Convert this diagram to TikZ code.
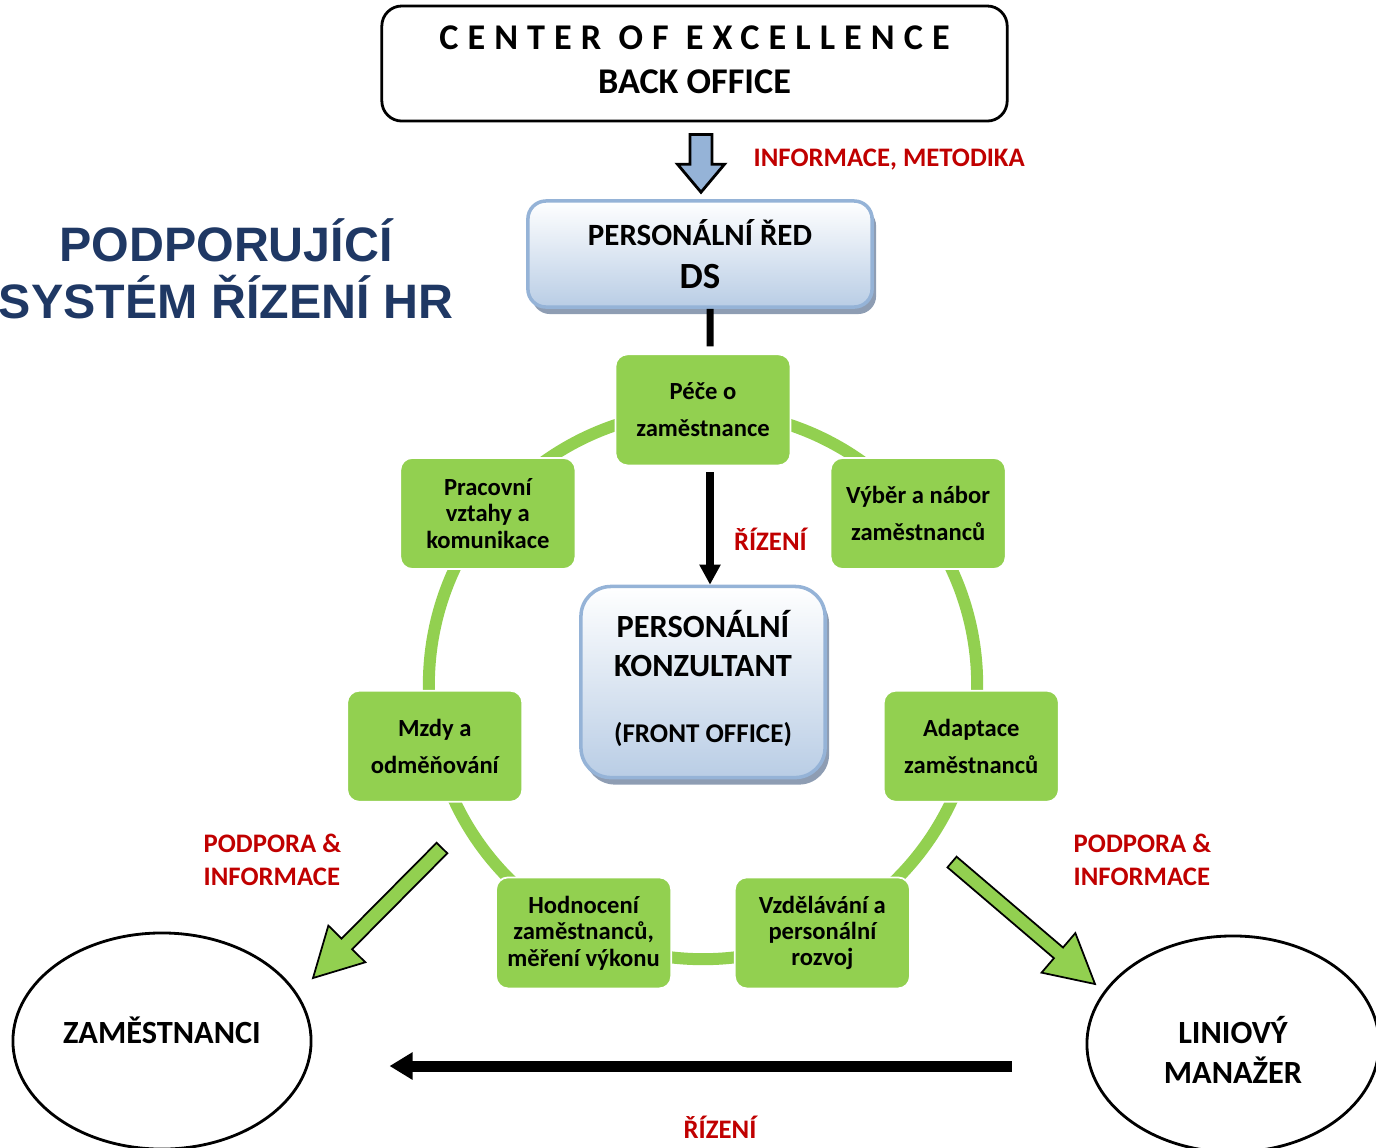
\documentclass[tikz,border=0pt]{standalone}
\usepackage{fontspec}
\setmainfont{Carlito}
\newfontfamily\titlefont{Liberation Sans}
\usetikzlibrary{arrows.meta, positioning, calc, shapes.geometric, shadows}
\definecolor{hrGreen}{HTML}{92D050}
\definecolor{hrBlue}{HTML}{95B3D7}
\definecolor{hrPale}{HTML}{B9CDE5}
\definecolor{hrShadow}{HTML}{8E9DB3}
\definecolor{hrRed}{HTML}{C00000}
\definecolor{hrNavy}{HTML}{1F3864}
% outlined block arrow: [style]{from}{to}{shaft half width}{head half width}{head length}
\newcommand{\blockarrow}[6][]{%
  \coordinate (ba-h) at ($(#3)!#6!(#2)$);
  \draw[#1] ($(#2)!#4!90:(#3)$) -- ($(ba-h)!#4!90:(#3)$) -- ($(ba-h)!#5!90:(#3)$)
    -- (#3) -- ($(ba-h)!#5!-90:(#3)$) -- ($(ba-h)!#4!-90:(#3)$) -- ($(#2)!#4!-90:(#3)$) -- cycle;
}

\begin{document}
\begin{tikzpicture}[x=0.01cm, y=0.01cm,
  font=\bfseries,
  hrbox/.style={fill=hrGreen, draw=white, line width=0.5pt, rounded corners=0.12cm,
                minimum width=1.75cm, minimum height=1.11cm, align=center, inner sep=1pt,
                font=\bfseries\fontsize{7}{7.5}\selectfont},
  pale/.style={draw=hrBlue, line width=1pt, top color=white, bottom color=hrPale, align=center,
               drop shadow={shadow xshift=0.04cm, shadow yshift=-0.07cm, fill=hrShadow, opacity=1}},
  oval/.style={draw, ellipse, line width=0.8pt, align=center, inner sep=0pt,
               font=\bfseries\fontsize{9.2}{11.2}\selectfont},
  lab/.style={text=hrRed, inner sep=0pt, align=left, font=\bfseries\fontsize{7.6}{9.4}\selectfont},
  ar/.style={line width=0.08cm, -{Triangle[length=0.2cm, width=0.2cm]}},
]
\useasboundingbox (0,0) rectangle (1376,-1147);

\node[text=hrNavy, font=\titlefont\bfseries\fontsize{13.75}{16.2}\selectfont, align=center]
  (title) at (226,-269) {PODPORUJÍCÍ\\SYSTÉM ŘÍZENÍ HR};

\node[draw, line width=0.8pt, rounded corners=0.2cm, minimum width=6.25cm, minimum height=1.15cm,
      align=center, font=\bfseries\fontsize{10.3}{12.5}\selectfont]
  (coe) at (694.5,-63.5) {{\addfontfeature{LetterSpace=25}CENTER OF EXCELLENCE}\\BACK OFFICE\rule[-2.3pt]{0pt}{0pt}};
\node[pale, rounded corners=0.18cm, minimum width=3.44cm, minimum height=1.06cm,
      font=\bfseries\fontsize{8.8}{12.2}\selectfont]
  (red) at (700,-254) {PERSONÁLNÍ ŘED\\{\fontsize{10.5}{12}\selectfont DS}};
\node[pale, rounded corners=0.3cm, minimum width=2.44cm, minimum height=1.91cm,
      font=\bfseries\fontsize{9.2}{11.1}\selectfont]
  (konz) at (703,-682) {PERSONÁLNÍ\\KONZULTANT\\[7.7pt]{\fontsize{7.7}{11.1}\selectfont(FRONT OFFICE)}\rule[-3pt]{0pt}{0pt}};

% ring of HR activities
\coordinate (ring) at (703,-685);
\draw[hrGreen, line width=0.12cm] (ring) circle[radius=2.74cm];
\foreach \nm/\txt [count=\k from 0] in {pece/{Péče o\\[3pt]zaměstnance},
    vyber/{Výběr a nábor\\[3pt]zaměstnanců}, adapt/{Adaptace\\[3pt]zaměstnanců},
    vzdel/{Vzdělávání a\\personální\\rozvoj}, hodn/{Hodnocení\\zaměstnanců,\\měření výkonu},
    mzdy/{Mzdy a\\[3pt]odměňování}, prac/{Pracovní\\vztahy a\\komunikace}}
  \node[hrbox] (\nm) at ($(ring)+({90-\k*360/7}:2.75cm)$) {\txt};

\node[oval, minimum width=2.98cm, minimum height=2.16cm] (zam) at (162,-1041) {ZAMĚSTNANCI\rule[-6.3pt]{0pt}{0pt}};
\node[oval, minimum width=2.92cm, minimum height=2.16cm] (lin) at (1233,-1044) {LINIOVÝ\rule{0pt}{11pt}\\MANAŽER};

% back office -> personnel director
\coordinate (bo-a) at ([xshift=0.065cm, yshift=-0.12cm]coe.south);
\coordinate (bo-b) at ([xshift=0.01cm, yshift=0.07cm]red.north);
\blockarrow[fill=hrBlue, draw=black, line width=0.8pt]{bo-a}{bo-b}{0.11cm}{0.235cm}{0.28cm}
\node[lab, anchor=west] (infolab) at (753,-160) {INFORMACE, METODIKA};

\draw[line width=0.07cm] ([xshift=0.1cm]red.south) -- ([xshift=0.07cm, yshift=0.07cm]pece.north);
\draw[ar] ([xshift=0.07cm, yshift=-0.06cm]pece.south) -- ([xshift=0.07cm]konz.north)
  node[lab, pos=0.6, right=0.2cm] (riz1) {ŘÍZENÍ};

% support arrows towards employees and line manager
\coordinate (gl-a) at (442,-848);
\coordinate (gl-b) at (313,-978);
\coordinate (gr-a) at (952,-862);
\coordinate (gr-b) at (1095,-984);
\blockarrow[fill=hrGreen, draw=black, line width=0.5pt]{gl-a}{gl-b}{0.075cm}{0.26cm}{0.48cm}
\blockarrow[fill=hrGreen, draw=black, line width=0.5pt]{gr-a}{gr-b}{0.07cm}{0.26cm}{0.48cm}
\node[lab, anchor=west] (podl) at (203,-860) {PODPORA \&\\INFORMACE};
\node[lab, anchor=west] (podr) at (1073,-860) {PODPORA \&\\INFORMACE};

\coordinate (rz-a) at ([shift={(-74,-22)}]lin.west);
\draw[line width=0.11cm, -{Triangle[length=0.23cm, width=0.26cm]}]
  (rz-a) -- ([xshift=0.77cm]rz-a -| zam.east);
\node[lab] (riz2) at (720,-1127) {ŘÍZENÍ};
\end{tikzpicture}
\end{document}
